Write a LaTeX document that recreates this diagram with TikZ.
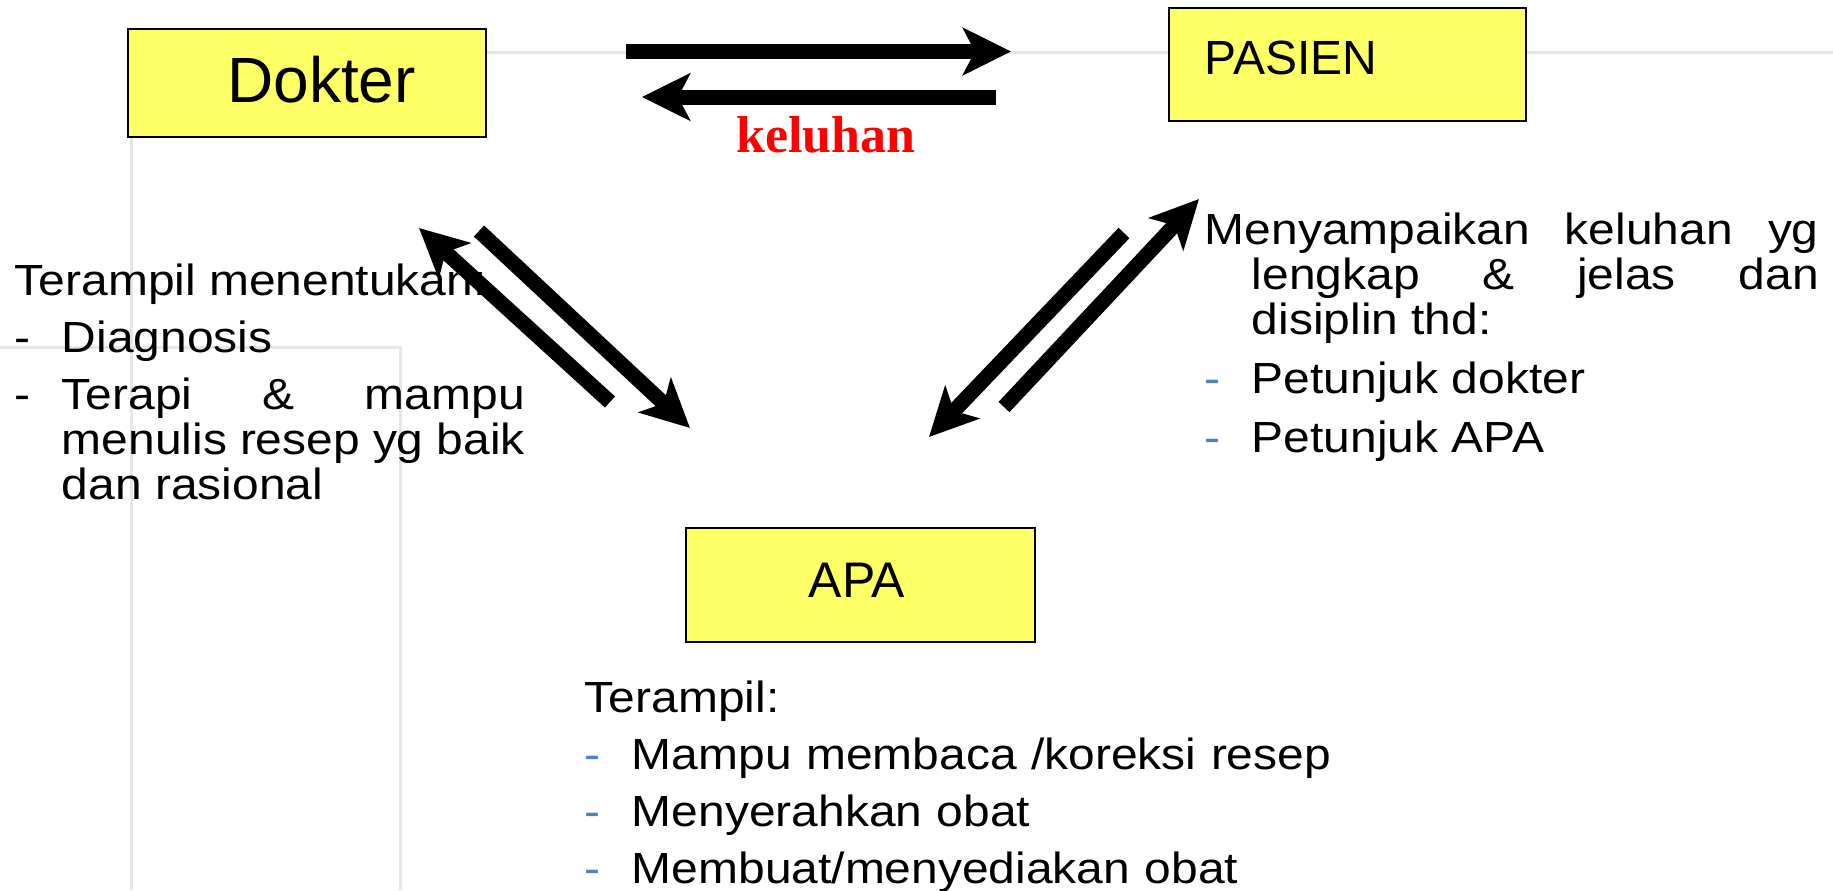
\documentclass[tikz,border=0pt]{standalone}
\usepackage{fontspec}
\setmainfont{Liberation Sans}
\newfontfamily\notefont{Liberation Sans}[FakeStretch=1.1]
\newfontfamily\keluhanfont{Liberation Serif}
\usetikzlibrary{arrows.meta}
\definecolor{boxyellow}{HTML}{FFFF66}
\definecolor{dashblue}{HTML}{4F81BD}
\definecolor{framegray}{HTML}{E6E6E6}
\newcommand{\dashline}[1]{\par\makebox[11.75pt][l]{\textcolor{#1}{-}}%
  \hangindent=11.75pt\hangafter=1\relax}
\tikzset{
  role/.style={draw=black,line width=0.6pt,fill=boxyellow,inner sep=0pt},
  rolename/.style={inner sep=0pt,font=\fontsize{12}{14}\selectfont},
  note/.style={anchor=base west,inner sep=0pt,align=justify,
    font=\notefont\fontsize{10.9}{11.25}\selectfont},
  flow/.style={line width=3.75pt,-{Stealth[length=12pt,width=11.75pt,inset=3pt]}},
  frame/.style={framegray,line width=0.75pt}
}
\begin{document}
\begin{tikzpicture}[x=0.25pt,y=-0.25pt]
\useasboundingbox (0,0) rectangle (1833,890);

\draw[frame] (131,890) |- (1833,52);
\draw[frame] (0,347) -| (400,890);

\node[role,minimum width=89.5pt,minimum height=27pt] (dokter) at (307,83) {};
\node[role,minimum width=89.25pt,minimum height=28.25pt] (pasien) at (1347.5,64.5) {};
\node[role,minimum width=87.25pt,minimum height=28.5pt] (apa) at (860.5,585) {};
\node[rolename,anchor=base,font=\fontsize{16}{19}\selectfont] (dokterlabel) at (321.5,102) {Dokter};
\node[rolename,anchor=base west] (pasienlabel) at (1204,74) {PASIEN};
\node[rolename,anchor=base,font=\fontsize{12.5}{15}\selectfont] (apalabel) at (857,597) {APA};
\node[anchor=base,inner sep=0pt,text=red,font=\keluhanfont\bfseries\fontsize{13}{15}\selectfont] (keluhan) at (826,152) {keluhan};

\coordinate (dp1) at (626,51.5);
\coordinate (dp2) at (1011,51.5);
\coordinate (pd1) at (996,97);
\coordinate (pd2) at (642,97);
\coordinate (ad1) at (610,402);
\coordinate (ad2) at (419,228);
\coordinate (da1) at (479,231);
\coordinate (da2) at (690,428);
\coordinate (pa1) at (1124,233);
\coordinate (pa2) at (929,437);
\coordinate (ap1) at (1004,407);
\coordinate (ap2) at (1199,199);
\draw[flow] (dp1) -- (dp2);
\draw[flow] (pd1) -- (pd2);
\draw[flow] (ad1) -- (ad2);
\draw[flow] (da1) -- (da2);
\draw[flow] (pa1) -- (pa2);
\draw[flow] (ap1) -- (ap2);

\node[note,text width=127.5pt] (dokternote) at (14,295) {\setlength{\parskip}{3pt}Terampil menentukan:\dashline{black}Diagnosis\dashline{black}Terapi \& mampu\linebreak menulis resep yg baik\linebreak dan rasional\par};
\node[note,text width=153.5pt] (pasiennote) at (1204,244) {\setlength{\parskip}{3.5pt}\hangindent=11.75pt\hangafter=1 Menyampaikan keluhan yg\linebreak lengkap \& jelas dan\linebreak disiplin thd:\dashline{dashblue}Petunjuk dokter\dashline{dashblue}Petunjuk APA\par};
\node[note,text width=200pt,align=left] (apanote) at (584,712) {\setlength{\parskip}{3pt}Terampil:\dashline{dashblue}Mampu membaca /koreksi resep\dashline{dashblue}Menyerahkan obat\dashline{dashblue}Membuat/menyediakan obat\par};
\end{tikzpicture}
\end{document}
